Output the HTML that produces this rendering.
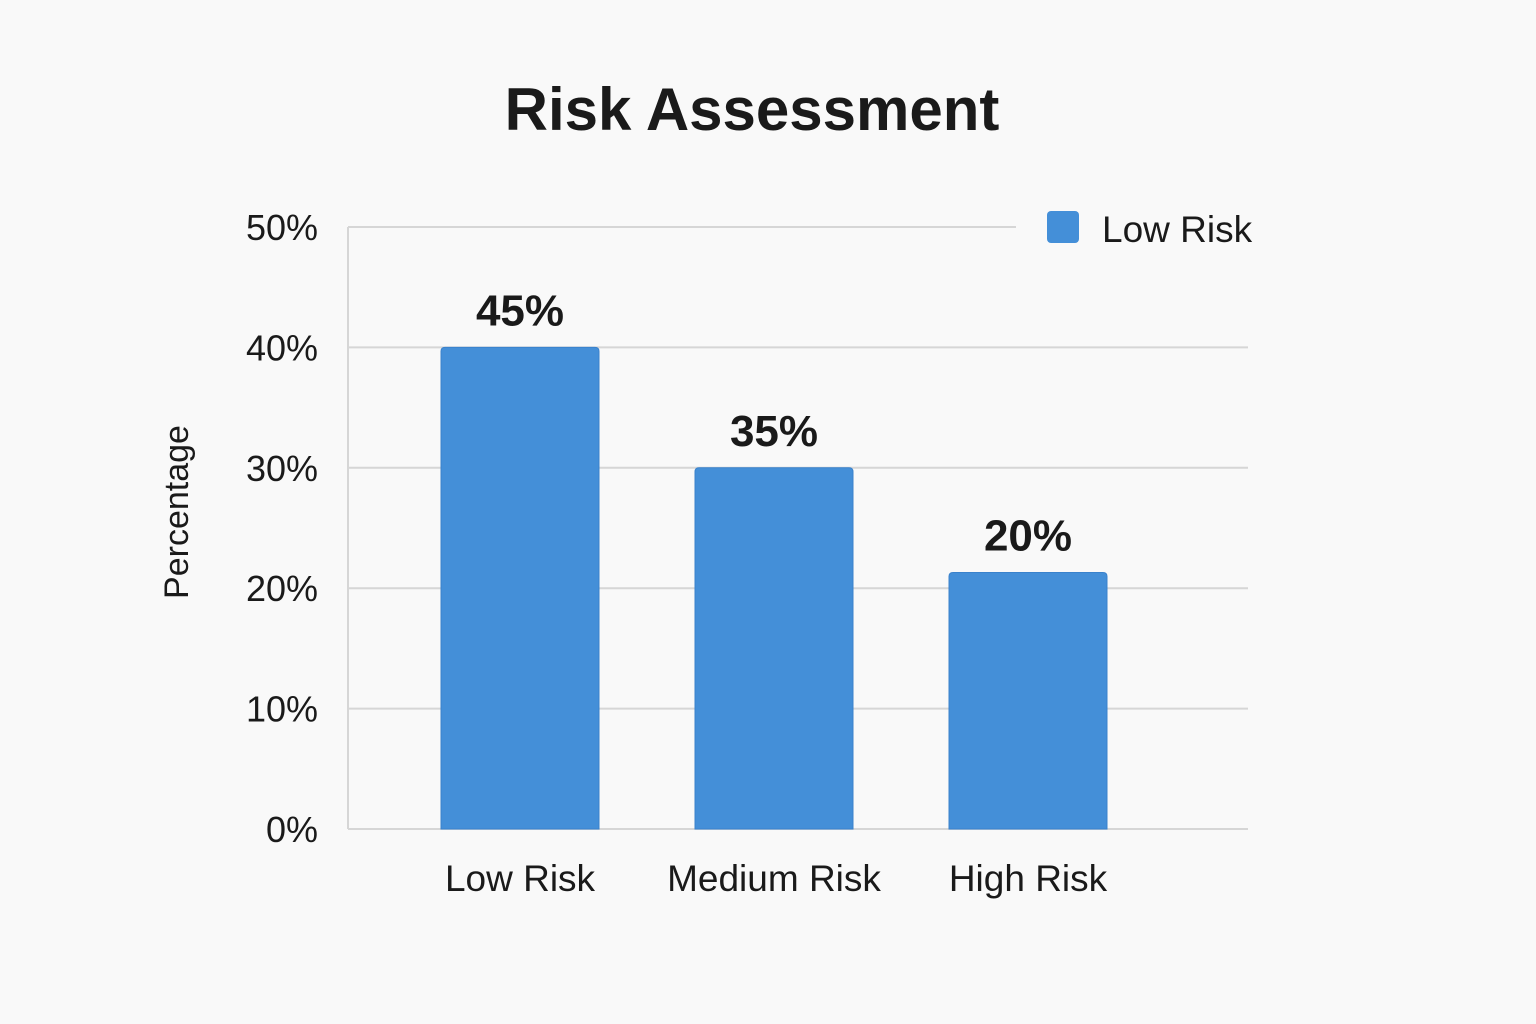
<!DOCTYPE html>
<html><head><meta charset="utf-8"><style>
html,body{margin:0;padding:0;background:#f9f9f9;}
svg{display:block;font-family:"Liberation Sans","DejaVu Sans",sans-serif;}
</style></head><body>
<svg id="chart" width="1536" height="1024" viewBox="0 0 1536 1024">
<rect width="1536" height="1024" fill="#f9f9f9"/>
<text x="752" y="130" text-anchor="middle" font-size="60" font-weight="bold" fill="#1a1a1a">Risk Assessment</text>
<text transform="translate(188,512) rotate(-90)" text-anchor="middle" font-size="34" fill="#1a1a1a">Percentage</text>
<g id="grid"></g><g id="bars"></g>
<rect x="1047" y="211" width="32" height="32" rx="4" fill="#448fd8"/>
<text x="1102" y="242" font-size="37" fill="#1a1a1a">Low Risk</text>
</svg>
<script>
const categories=["Low Risk","Medium Risk","High Risk"];
const barValues=[40,30,21.3];
const valueLabels=["45%","35%","20%"];
const yTicks=[0,10,20,30,40,50];
const yTickLabels=["0%","10%","20%","30%","40%","50%"];
const NS="http://www.w3.org/2000/svg";
const y=v=>829-v*12.04;
const x=i=>520+i*254;
function mk(tag,attrs,parent,text){const e=document.createElementNS(NS,tag);for(const k in attrs)e.setAttribute(k,attrs[k]);if(text!==undefined)e.textContent=text;parent.appendChild(e);return e;}
const grid=document.getElementById('grid'),bars=document.getElementById('bars');
yTicks.forEach((t,i)=>{
 const l=mk('line',{x1:348,x2:t===50?1016:1248,y1:y(t),y2:y(t),stroke:'#d6d6d6','stroke-width':2},grid);
 
 
 const tx=mk('text',{x:318,y:y(t)+13,'text-anchor':'end','font-size':36,fill:'#1a1a1a'},grid,yTickLabels[i]);
 
 
});
const ax=mk('line',{x1:348,x2:348,y1:y(50),y2:y(0),stroke:'#d6d6d6','stroke-width':2},grid);


categories.forEach((c,i)=>{
 const w=158;
 const b=mk('path',{d:`M${x(i)-w/2},${y(0)} V${y(barValues[i])+4} q0,-4 4,-4 H${x(i)+w/2-4} q4,0 4,4 V${y(0)} Z`,fill:'#448fd8',stroke:'#3a82cc','stroke-width':1},bars);
 
 
 const v=mk('text',{x:x(i),y:y(barValues[i])-22,'text-anchor':'middle','font-size':44,'font-weight':'bold',fill:'#1a1a1a'},bars,valueLabels[i]);
 
 
 const xl=mk('text',{x:x(i),y:891,'text-anchor':'middle','font-size':37,fill:'#1a1a1a'},bars,c);
 
 
});
</script>
</body></html>
